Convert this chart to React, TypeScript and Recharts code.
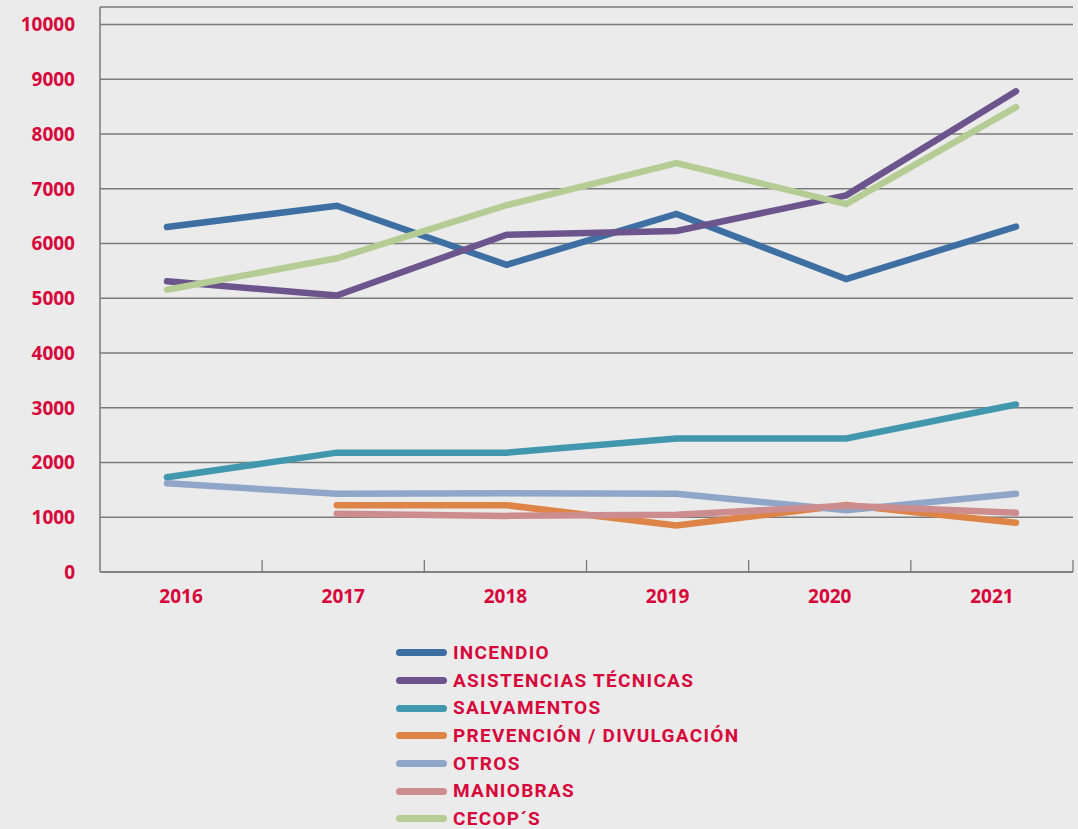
import { LineChart, Line, XAxis, YAxis, CartesianGrid } from 'recharts';

// Datos
const years = ['2016', '2017', '2018', '2019', '2020', '2021'];
const incendio = [6300, 6690, 5610, 6540, 5350, 6310];
const asistencias = [5310, 5050, 6160, 6230, 6880, 8780];
const salvamentos = [1730, 2180, 2180, 2440, 2440, 3060];
const prevencion = [null, 1220, 1220, 850, 1225, 900];
const otros = [1620, 1430, 1440, 1430, 1130, 1430];
const maniobras = [null, 1065, 1025, 1045, 1210, 1080];
const cecops = [5155, 5730, 6700, 7470, 6720, 8490];
const yTicks = [0, 1000, 2000, 3000, 4000, 5000, 6000, 7000, 8000, 9000, 10000];

const series = [
  { key: 'incendio', name: 'INCENDIO', color: '#3e6fa3', values: incendio },
  { key: 'asistencias', name: 'ASISTENCIAS TÉCNICAS', color: '#6c558d', values: asistencias },
  { key: 'salvamentos', name: 'SALVAMENTOS', color: '#4197ae', values: salvamentos },
  { key: 'prevencion', name: 'PREVENCIÓN / DIVULGACIÓN', color: '#dd8446', values: prevencion },
  { key: 'otros', name: 'OTROS', color: '#8fa6c8', values: otros },
  { key: 'maniobras', name: 'MANIOBRAS', color: '#cd8d8f', values: maniobras },
  { key: 'cecops', name: 'CECOP´S', color: '#b6cc95', values: cecops },
];

const data = years.map((year, i) => {
  const row: Record<string, string | number | null> = { year };
  series.forEach((s) => {
    row[s.key] = s.values[i];
  });
  return row;
});

const RED = '#d7063a';
const GRID = '#7a7a7a';
const BG = '#ebebeb';

const CHART_W = 1078;
const CHART_H = 610;
const MARGIN = { top: 7, right: 5, bottom: 8, left: 10 };
const Y_W = 90;
const PLOT_W = CHART_W - MARGIN.left - MARGIN.right - Y_W;
const BAND_W = PLOT_W / years.length;
const LABEL_GAP = 18;

const tickFont = { fontFamily: '"Open Sans", sans-serif', fontWeight: 700, fontSize: 19 };

// Etiqueta de año + marca de división al final de cada banda
const YearTick = (props: any) => {
  const { x, y, payload } = props;
  const axisY = y - LABEL_GAP;
  return (
    <g>
      <line x1={x + BAND_W / 2} x2={x + BAND_W / 2} y1={axisY} y2={axisY - 12} stroke={GRID} strokeWidth={1.3} />
      <text x={x} y={y} dy="0.71em" textAnchor="middle" fill={RED} {...tickFont}>
        {payload.value}
      </text>
    </g>
  );
};

const LegendList = () => (
  <div style={{ position: 'absolute', left: 396, top: 639 }}>
    {series.map((s) => (
      <div key={s.key} style={{ display: 'flex', alignItems: 'center', height: 27.7 }}>
        <div style={{ width: 51, height: 7, borderRadius: 4, background: s.color, marginRight: 6 }} />
        <span
          style={{
            color: RED,
            fontFamily: 'Roboto, sans-serif',
            fontWeight: 700,
            fontSize: 19,
            letterSpacing: 1.3,
            lineHeight: '18px',
          }}
        >
          {s.name}
        </span>
      </div>
    ))}
  </div>
);

export default function App() {
  return (
    <div style={{ position: 'absolute', left: 0, top: 0, width: 1078, height: 829, background: BG, overflow: 'hidden' }}>
      <LineChart width={CHART_W} height={CHART_H} data={data} margin={MARGIN}>
        <CartesianGrid vertical={false} stroke={GRID} strokeWidth={1.3} />
        <XAxis xAxisId="pts" dataKey="year" hide padding={{ left: 67, right: 57 }} />
        <XAxis
          xAxisId="band"
          dataKey="year"
          scale="band"
          height={30}
          axisLine={{ stroke: GRID, strokeWidth: 1.5 }}
          tickLine={false}
          tickSize={0}
          tickMargin={LABEL_GAP}
          tick={<YearTick />}
          interval={0}
        />
        <YAxis
          width={Y_W}
          domain={[0, 10320]}
          ticks={yTicks}
          interval={0}
          axisLine={{ stroke: GRID, strokeWidth: 1.5 }}
          tickLine={false}
          tickSize={0}
          tickMargin={25}
          tick={{ fill: RED, ...tickFont }}
        />
        {series.map((s) => (
          <Line
            key={s.key}
            xAxisId="pts"
            dataKey={s.key}
            name={s.name}
            stroke={s.color}
            strokeWidth={6.5}
            strokeLinecap="round"
            dot={false}
            activeDot={false}
            isAnimationActive={false}
          />
        ))}
      </LineChart>
      <LegendList />
    </div>
  );
}
